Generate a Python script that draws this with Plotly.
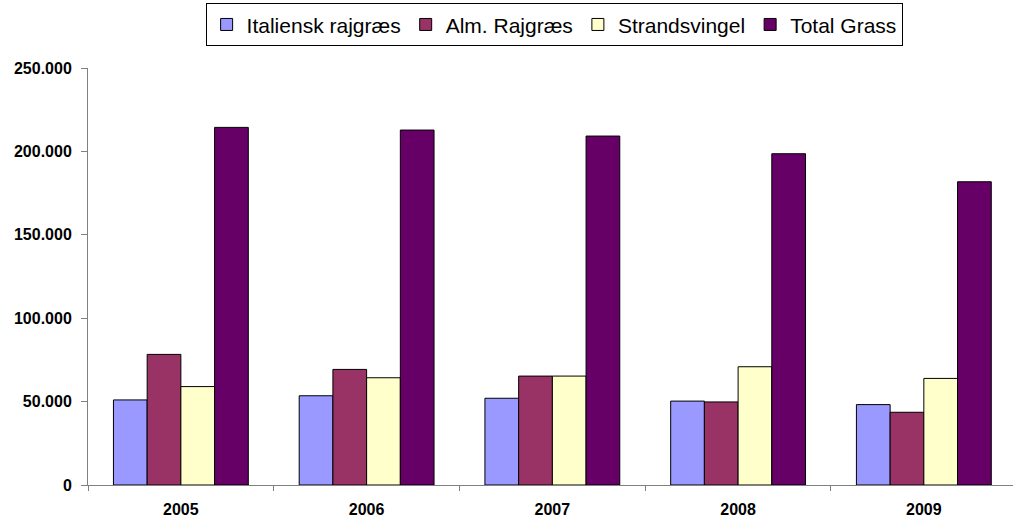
import plotly.graph_objects as go

# Data
years = ["2005", "2006", "2007", "2008", "2009"]
italiensk = [51000, 53500, 52000, 50300, 48200]
alm_rajgraes = [78300, 69300, 65300, 49800, 43600]
strandsvingel = [59000, 64300, 65300, 70900, 63900]
total_grass = [214400, 212800, 209200, 198600, 181800]

series = [
    ("Italiensk rajgræs", italiensk, "#9999FF"),
    ("Alm. Rajgræs", alm_rajgraes, "#993366"),
    ("Strandsvingel", strandsvingel, "#FFFFCC"),
    ("Total Grass", total_grass, "#660066"),
]

fig = go.Figure()
for navn, vaerdier, farve in series:
    fig.add_trace(go.Bar(
        x=years,
        y=vaerdier,
        name=navn,
        marker=dict(color=farve, line=dict(color="black", width=1)),
    ))

fig.update_layout(
    width=1013,
    height=517,
    barmode="group",
    bargap=0.274,
    bargroupgap=0,
    separators=",.",
    plot_bgcolor="white",
    paper_bgcolor="white",
    font=dict(family="Arial", size=16, color="black"),
    margin=dict(l=88, r=0, t=68, b=32, autoexpand=False),
    legend=dict(
        orientation="h",
        xref="container", yref="container",
        x=0.547, y=0.952,
        xanchor="center", yanchor="middle",
        bordercolor="black",
        borderwidth=1,
        font=dict(family="Arial", size=21, color="black"),
        itemwidth=30,
        tracegroupgap=0,
    ),
    xaxis=dict(
        range=[-0.5, 4.48],
        automargin=False,
        showline=True,
        linecolor="#808080",
        linewidth=1,
        ticks="outside",
        tickson="boundaries",
        ticklen=5,
        tickcolor="#808080",
        tickfont=dict(family="Arial", size=16, color="black", weight="bold"),
        ticklabelstandoff=10,
        showgrid=False,
        zeroline=False,
    ),
    yaxis=dict(
        range=[0, 250000],
        automargin=False,
        tick0=0,
        dtick=50000,
        tickformat=",d",
        showline=True,
        linecolor="#808080",
        linewidth=1,
        ticks="outside",
        ticklen=6,
        tickcolor="#808080",
        tickfont=dict(family="Arial", size=16, color="black", weight="bold"),
        ticklabelstandoff=6,
        showgrid=False,
        zeroline=False,
    ),
)

# siden har 8px margin i body som standard - fjern den
fig.write_html(
    "out.html",
    config={"displayModeBar": False},
    post_script="document.body.style.margin='0';",
)
